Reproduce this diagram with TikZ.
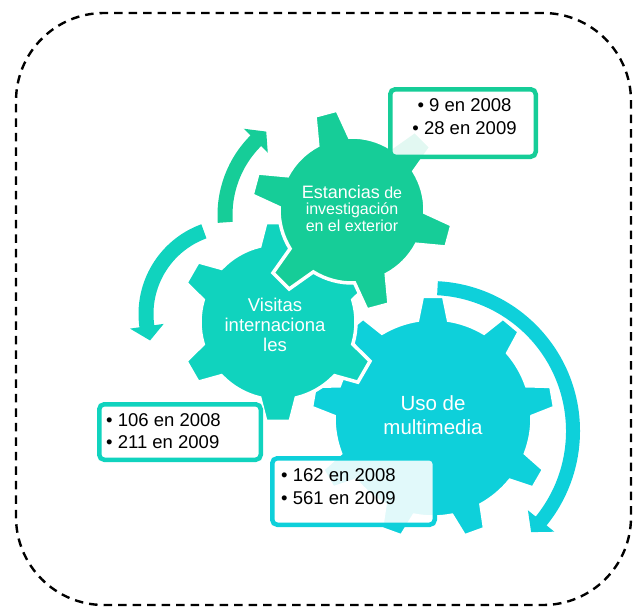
\documentclass[tikz,border=0pt]{standalone}
\usepackage{fontspec}
\setmainfont{Liberation Sans}

\definecolor{cgreen}{RGB}{22,205,152}
\definecolor{cteal}{RGB}{16,211,190}
\definecolor{ccyan}{RGB}{14,208,218}

% #1 colour, #2 cx, #3 cy, #4 teeth, #5 first tooth angle, #6 inner r, #7 outer r, #8 tip half-angle, #9 base half-angle
\newcommand{\mygear}[9]{%
  \pgfmathsetmacro{\gstep}{360/#4}%
  \path[fill=#1,draw=white,line width=3.5pt,line join=miter,shift={(#2,#3)}]
    ({#5+#9}:#6)
    \foreach \k in {1,...,#4}{
      arc[start angle={#5+(\k-1)*\gstep+#9}, end angle={#5+\k*\gstep-#9}, radius=#6]
      -- ({#5+\k*\gstep-#8}:#7) -- ({#5+\k*\gstep+#8}:#7) -- ({#5+\k*\gstep+#9}:#6)
    } -- cycle;%
}
% #1 colour, #2 cx, #3 cy, #4 mid r, #5 half width, #6 start angle, #7 end angle, #8 head half width, #9 head angle
\newcommand{\myarrow}[9]{%
  \fill[#1,shift={(#2,#3)}]
    ({#6}:{#4+#5}) arc[start angle=#6, end angle=#7, radius={#4+#5}]
    -- ({#7}:{#4+#8}) -- ({#7+#9}:#4) -- ({#7}:{#4-#8}) -- ({#7}:{#4-#5})
    arc[start angle=#7, end angle=#6, radius={#4-#5}] -- cycle;%
}

\begin{document}
\begin{tikzpicture}[x=1pt,y=-1pt,
  gtxt/.style={text=white, align=center, inner sep=0pt},
  btxt/.style={text=black, inner sep=0pt, font=\fontsize{18.5}{22.5}\selectfont},
  infobox/.style={draw=#1, line width=4.5pt, fill=white, fill opacity=0.88, rounded corners=5pt, inner sep=0pt}]
\useasboundingbox (0,0) rectangle (644,608);

\node[draw=black, dash pattern=on 8.5pt off 6pt, line width=2.4pt, rounded corners=88pt,
      minimum width=615pt, minimum height=592pt, inner sep=0pt] (frame) at (323.5,309) {};

% gears
\mygear{ccyan}{433}{418}{9}{-90}{99}{122}{5}{9}
\mygear{cteal}{278}{322}{6}{-90}{78}{100}{7}{13.5}
\mygear{cgreen}{352}{210}{6}{-105}{73}{101}{6.5}{13}

% circular arrows
\myarrow{cgreen}{330}{215}{105}{7.5}{176}{225}{17}{7.6}
\myarrow{cteal}{234}{314}{88}{7.5}{250}{172}{17}{-9.5}
\myarrow{ccyan}{430}{431}{143}{7}{-87}{39}{17}{6}

% boxes
\node[infobox=cgreen, minimum width=145.5pt, minimum height=67.5pt] (box1) at (463,123) {};
\node[infobox=cteal, minimum width=161.5pt, minimum height=55.5pt] (box2) at (180,432) {};
\node[infobox=ccyan, minimum width=162.5pt, minimum height=66.5pt] (box3) at (353.5,491.5) {};

\node[btxt, align=center] (t1) at (464.5,116.7) {• 9 en 2008\\• 28 en 2009};
\node[btxt, align=left, anchor=west] (t2) at (106,431) {• 106 en 2008\\• 211 en 2009};
\node[btxt, align=left, anchor=west] (t3) at (281,486.4) {• 162 en 2008\\• 561 en 2009};

% gear labels
\node[gtxt, font=\fontsize{20.5}{24}\selectfont] (uso) at (433,415) {Uso de\\multimedia};
\node[gtxt, font=\fontsize{18.5}{20}\selectfont] (vis) at (275,325.3) {Visitas\\internaciona\\les};
\node[gtxt, font=\fontsize{16}{16.5}\selectfont] (est) at (352,208.3) {{\fontsize{18}{16.5}\selectfont Estancias} de\\investigación\\en el exterior};
\end{tikzpicture}
\end{document}
